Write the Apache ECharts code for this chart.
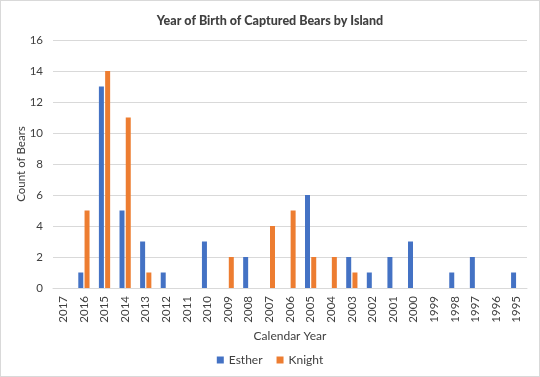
<!DOCTYPE html>
<html><head><meta charset="utf-8">
<script src="https://cdn.jsdelivr.net/npm/echarts@6/dist/echarts.min.js"></script>
<style>html,body{margin:0;padding:0;background:#fff}#c{width:538px;height:375px;border:1px solid #d9d9d9}</style>
</head><body><div id="c"></div>
<script>
const categories = ['2017','2016','2015','2014','2013','2012','2011','2010','2009','2008','2007','2006','2005','2004','2003','2002','2001','2000','1999','1998','1997','1996','1995'];
const esther = [0,1,13,5,3,1,0,3,0,2,0,0,6,0,2,1,2,3,0,1,2,0,1];
const knight = [0,5,14,11,1,0,0,0,2,0,4,5,2,2,1,0,0,0,0,0,0,0,0];
const font = 'Lato';
const txt = '#404040';
const chart = echarts.init(document.getElementById('c'));
chart.setOption({
  textStyle:{fontFamily:font},
  title:{text:'Year of Birth of Captured Bears by Island',left:'center',top:8,textStyle:{fontSize:12.5,fontWeight:900,color:'#404040',fontFamily:font}},
  legend:{bottom:5,itemWidth:7,itemHeight:7,itemGap:14,icon:'rect',textStyle:{fontSize:12,color:txt},data:['Esther','Knight']},
  grid:{left:52,right:12,top:39,bottom:88},
  xAxis:{type:'category',data:categories,name:'Calendar Year',nameLocation:'middle',nameGap:42,
    nameTextStyle:{fontSize:12,color:txt},
    axisLine:{lineStyle:{color:'#d9d9d9'}},axisTick:{show:false},
    axisLabel:{rotate:90,fontSize:11.5,color:txt,interval:0,margin:8}},
  yAxis:{type:'value',min:0,max:16,interval:2,name:'Count of Bears',nameLocation:'middle',nameGap:26,nameMoveOverlap:false,
    nameTextStyle:{fontSize:11.5,color:txt},
    axisLine:{show:false},axisTick:{show:false},
    axisLabel:{fontSize:11.5,color:txt,margin:10},
    splitLine:{lineStyle:{color:'#d9d9d9'}}},
  series:[
    {name:'Esther',type:'bar',data:esther,barWidth:5,barGap:'25%',itemStyle:{color:'#4472C4'}},
    {name:'Knight',type:'bar',data:knight,barWidth:5,itemStyle:{color:'#ED7D31'}}
  ]
});
</script></body></html>
